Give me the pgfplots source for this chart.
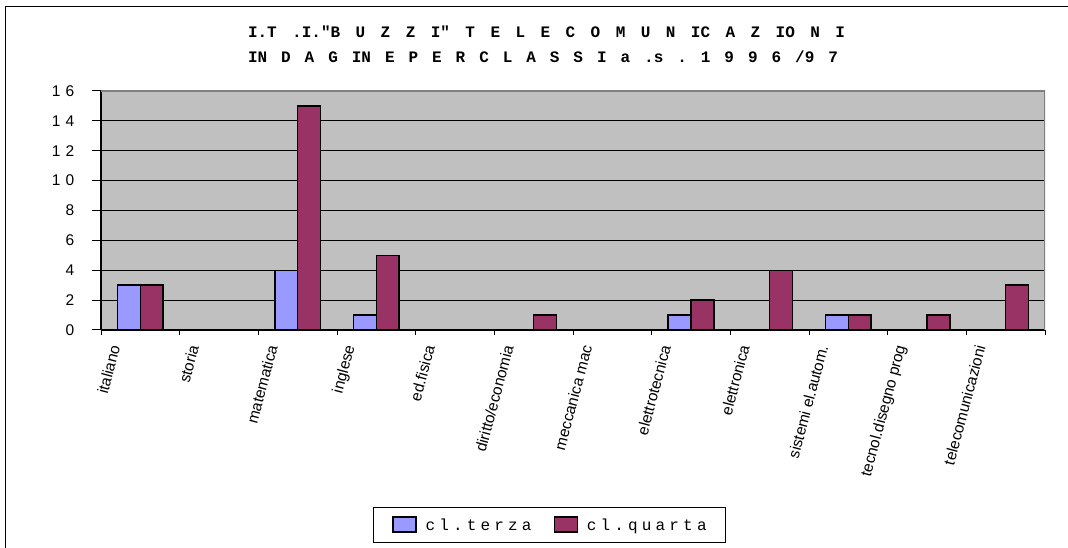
\documentclass[border=0pt]{standalone}
\usepackage{fontspec}
\setmainfont{Liberation Sans}
\newfontfamily\monofont{Liberation Mono}
\usepackage{pgfplots}
\pgfplotsset{compat=1.18}

\definecolor{terza}{HTML}{9999FF}
\definecolor{quarta}{HTML}{993366}
\definecolor{plotgray}{HTML}{C0C0C0}
\definecolor{rimgray}{HTML}{808080}

\pgfplotsset{
  sw/.style={legend image code/.code={%
    \draw[##1] (0pt,-7pt) rectangle (23pt,8pt);
    \path (-2pt,0pt) (30pt,0pt);}},
}
\frenchspacing

\begin{document}
\begin{tikzpicture}[x=1pt,y=1pt]
\begin{axis}[
  at={(101pt,218pt)}, anchor=south west,
  scale only axis, width=944pt, height=239pt,
  axis background/.style={fill=plotgray},
  ybar=0pt, bar width=0.29,
  xmin=-0.5, xmax=11.5, ymin=0, ymax=16,
  axis x line*=bottom, axis y line*=left,
  axis line style={black, line width=1.2pt, -},
  tick align=outside,
  tick style={black, line width=1pt},
  xtick style={/pgfplots/major tick length=5pt},
  ytick style={/pgfplots/major tick length=9pt},
  ytick={0,2,...,16},
  yticklabels={0,2,4,6,8,1\hspace{5pt}0,1\hspace{5pt}2,1\hspace{5pt}4,1\hspace{5pt}6},
  yticklabel style={xshift=-19pt},
  xtick={-0.5,0.5,...,11.5},
  xticklabels={italiano,storia,matematica,inglese,ed.fisica,diritto/economia,meccanica mac,elettrotecnica,elettronica,sistemi el.autom.,tecnol.disegno prog,telecomunicazioni},
  xticklabel style={xshift=15pt, yshift=-8pt, rotate=75, anchor=east},
  tick label style={font=\fontsize{15.5}{18}\selectfont},
  ymajorgrids, grid style={black, line width=0.8pt},
  legend style={at={(0.475,-0.816)}, anchor=center, legend columns=2,
    draw=black, line width=1pt, fill=white, inner xsep=17pt, inner ysep=9pt,
    font=\monofont\fontsize{16}{19}\selectfont\addfontfeature{LetterSpace=26},
    /tikz/every even column/.append style={column sep=18pt}},
  legend cell align=left,
]
\addplot[fill=terza, draw=black, line width=1.4pt, sw] coordinates {
(0,3) (1,0) (2,4) (3,1) (4,0) (5,0) (6,0) (7,1) (8,0) (9,1) (10,0) (11,0)
};
\addplot[fill=quarta, draw=black, line width=1.4pt, sw] coordinates {
(0,3) (1,0) (2,15) (3,5) (4,0) (5,1) (6,0) (7,2) (8,4) (9,1) (10,1) (11,3)
};
\legend{cl.terza,cl.quarta}
\draw[rimgray, line width=1.6pt] (rel axis cs:0,1) -- (rel axis cs:1,1) -- (rel axis cs:1,0);
\end{axis}
\node[anchor=base, inner sep=0pt, font=\monofont\bfseries\fontsize{16}{19}\selectfont] at (546.5,510)
  {\makebox[597pt][s]{I.T .I."B U Z Z I" T E L E C O M U N IC A Z IO N I}};
\node[anchor=base, inner sep=0pt, font=\monofont\bfseries\fontsize{16}{19}\selectfont] at (543,485)
  {\makebox[590pt][s]{IN D A G IN E P E R C L A S S I a .s . 1 9 9 6 /9 7}};
\pgfresetboundingbox
\useasboundingbox (0,0) rectangle (1068,548);
\draw[line width=1.5pt] (5.5,0) -- (5.5,541.5) -- (1068,541.5);
\end{tikzpicture}
\end{document}
